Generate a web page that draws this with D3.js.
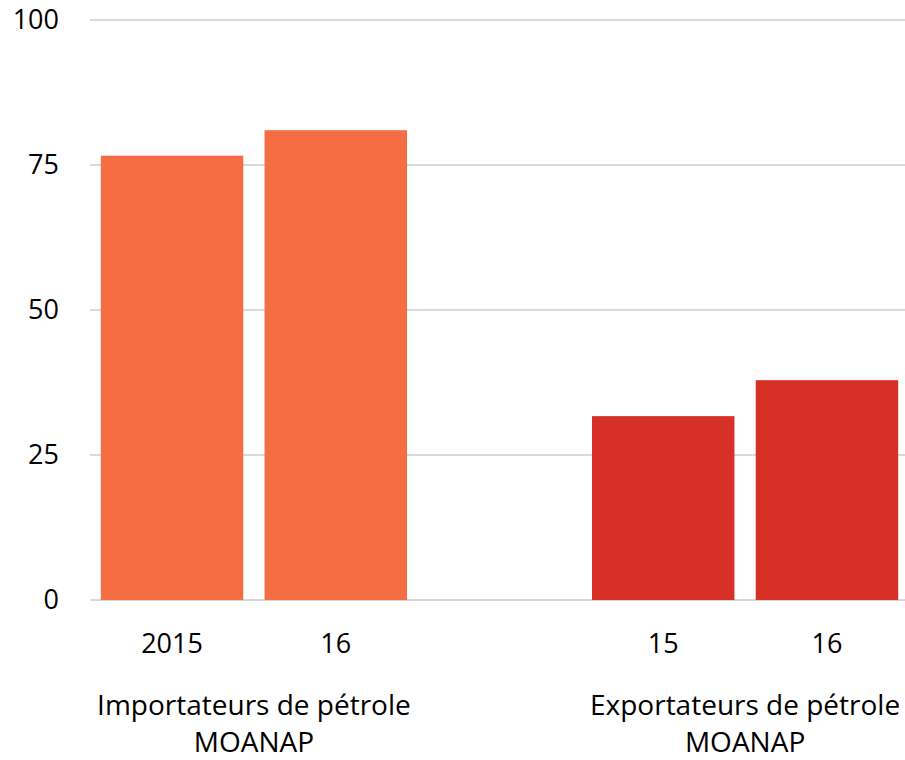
<!DOCTYPE html>
<html>
<head>
<meta charset="utf-8">
<script src="https://cdn.jsdelivr.net/npm/d3@7"></script>
<style>
  body { margin: 0; background: #fff; }
  text { font-family: "Open Sans", "Noto Sans", sans-serif; fill: #000; }
</style>
</head>
<body>
<div id="chart"></div>
<script>
// Data
const barKeys = ["imp15", "imp16", "gap", "exp15", "exp16"];
const barLabels = ["2015", "16", "", "15", "16"];
const barValues = [76.6, 81.0, null, 31.7, 37.9];
const barColors = ["#F46D43", "#F46D43", null, "#D73027", "#D73027"];
const groupLabels = [["Importateurs de pétrole", "MOANAP"], ["Exportateurs de pétrole", "MOANAP"]];
const groupMembers = [["imp15", "imp16"], ["exp15", "exp16"]];
const yTicks = [0, 25, 50, 75, 100];

const width = 905, height = 760;
const margin = { top: 20, right: 0, bottom: 160, left: 90 };

const svg = d3.select("#chart")
    .append("svg")
    .attr("width", width)
    .attr("height", height);

const x = d3.scaleBand()
    .domain(barKeys)
    .range([margin.left + 1, width + 3])
    .paddingInner(0.13)
    .paddingOuter(0.06);

const y = d3.scaleLinear()
    .domain([0, 100])
    .range([height - margin.bottom, margin.top]);

// gridlines
svg.append("g")
    .selectAll("line")
    .data(yTicks)
    .enter()
    .append("line")
    .attr("x1", margin.left)
    .attr("x2", width)
    .attr("y1", d => y(d))
    .attr("y2", d => y(d))
    .attr("stroke", "#d9d9d9")
    .attr("stroke-width", 2);

// y axis labels
const yAxis = d3.axisLeft(y).tickValues(yTicks).tickSize(0).tickPadding(0);
svg.append("g")
    .attr("transform", `translate(${margin.left - 31},0)`)
    .call(yAxis)
    .call(g => g.select(".domain").remove())
    .selectAll("text")
    .style("font-size", "27px")
    .attr("font-family", null);

// bars
const bars = barKeys.map((k, i) => ({ key: k, value: barValues[i], color: barColors[i], label: barLabels[i] }))
    .filter(d => d.value !== null);

svg.selectAll(".bar")
    .data(bars)
    .enter()
    .append("rect")
    .attr("class", "bar")
    .attr("x", d => x(d.key))
    .attr("width", x.bandwidth())
    .attr("y", d => y(d.value))
    .attr("height", d => y(0) - y(d.value))
    .attr("fill", d => d.color);

// category labels
svg.selectAll(".cat")
    .data(bars)
    .enter()
    .append("text")
    .attr("class", "cat")
    .attr("text-anchor", "middle")
    .attr("x", d => x(d.key) + x.bandwidth() / 2)
    .attr("y", y(0) + 53)
    .style("font-size", "27px")
    .text(d => d.label);

// group labels
groupLabels.forEach((lines, gi) => {
    const members = groupMembers[gi];
    const cx = (x(members[0]) + x(members[members.length - 1]) + x.bandwidth()) / 2;
    const t = svg.append("text")
        .attr("text-anchor", "middle")
        .attr("x", cx)
        .attr("y", y(0) + 115)
        .style("font-size", "28px");
    lines.forEach((line, li) => {
        t.append("tspan")
            .attr("x", cx)
            .attr("dy", li === 0 ? 0 : 37)
            .text(line);
    });
});
</script>
</body>
</html>
